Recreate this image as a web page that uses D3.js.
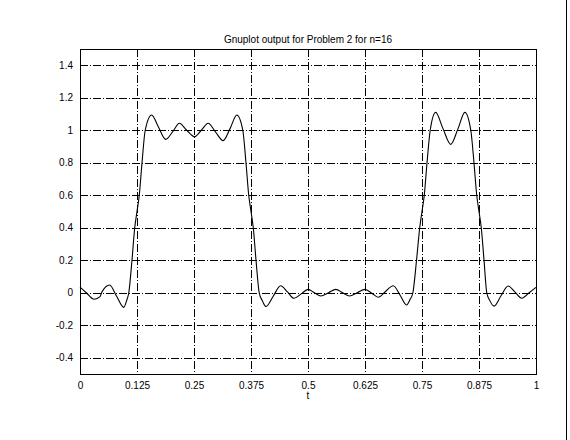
<!DOCTYPE html>
<html>
<head>
<meta charset="utf-8">
<script src="https://cdn.jsdelivr.net/npm/d3@7"></script>
<style>
  body { margin: 0; background: #fff; }
  svg { display: block; }
  text { font-family: "Liberation Sans", Arial, sans-serif; font-size: 10px; fill: #000; }
</style>
</head>
<body>
<script>
var width = 570;
var height = 440;
var margin = {top: 49, right: 34, bottom: 66, left: 80};

var titleText = 'Gnuplot output for Problem 2 for n=16';
var xLabel = 't';

var xTicks = [0, 0.125, 0.25, 0.375, 0.5, 0.625, 0.75, 0.875, 1];
var xTickLabels = ['0', '0.125', '0.25', '0.375', '0.5', '0.625', '0.75', '0.875', '1'];
var yTicks = [-0.4, -0.2, 0, 0.2, 0.4, 0.6, 0.8, 1, 1.2, 1.4];
var yTickLabels = ['-0.4', '-0.2', '0', '0.2', '0.4', '0.6', '0.8', '1', '1.2', '1.4'];

// points (t, value)
var tValues = [0, 0.015, 0.031, 0.044, 0.048, 0.065, 0.080, 0.096, 0.102, 0.107,
               0.114, 0.120, 0.125, 0.130, 0.136, 0.143, 0.157, 0.172, 0.188, 0.203,
               0.218, 0.234, 0.251, 0.266, 0.281, 0.297, 0.314, 0.329, 0.344, 0.357,
               0.364, 0.370, 0.375, 0.380, 0.386, 0.393, 0.400, 0.408, 0.424, 0.440,
               0.455, 0.469, 0.485, 0.500, 0.514, 0.528, 0.545, 0.561, 0.576, 0.591,
               0.608, 0.625, 0.640, 0.654, 0.670, 0.687, 0.702, 0.716, 0.724, 0.730,
               0.738, 0.745, 0.750, 0.755, 0.761, 0.768, 0.780, 0.796, 0.813, 0.829,
               0.844, 0.857, 0.864, 0.870, 0.875, 0.880, 0.886, 0.892, 0.899, 0.908,
               0.923, 0.939, 0.954, 0.969, 0.985, 1];
var yValues = [0.035, -0.003, -0.040, -0.024, 0.004, 0.048, -0.020, -0.090, -0.050, 0,
               0.2, 0.4, 0.5, 0.6, 0.8, 1.0, 1.094, 1.02, 0.944, 0.99,
               1.043, 1.0, 0.960, 1.0, 1.043, 0.99, 0.936, 1.01, 1.094, 1.0,
               0.8, 0.6, 0.5, 0.4, 0.2, 0, -0.050, -0.085, -0.020, 0.043,
               0.005, -0.034, -0.007, 0.021, 0, -0.020, 0, 0.021, 0, -0.020,
               0, 0.021, -0.003, -0.028, 0.008, 0.043, -0.015, -0.075, -0.040, 0,
               0.2, 0.4, 0.5, 0.6, 0.8, 1.0, 1.11, 1.01, 0.913, 1.01,
               1.11, 1.0, 0.8, 0.6, 0.5, 0.4, 0.2, 0, -0.050, -0.082,
               -0.020, 0.042, 0.004, -0.034, 0, 0.033];

var data = tValues.map(function(t, i) { return {t: t, v: yValues[i]}; });

var svg = d3.select('body').append('svg')
            .attr('width', width)
            .attr('height', height);

var x = d3.scaleLinear().domain([0, 1]).range([margin.left, width - margin.right]);
var y = d3.scaleLinear().domain([-0.5, 1.5]).range([height - margin.bottom, margin.top]);

var gridDash = '8,2,1,2';

// grid
svg.append('g').attr('class', 'ygrid')
   .selectAll('line').data(yTicks)
   .enter().append('line')
     .attr('x1', x(0)).attr('x2', x(1))
     .attr('y1', d => Math.round(y(d)) + 0.5)
     .attr('y2', d => Math.round(y(d)) + 0.5)
     .attr('stroke', '#000')
     .attr('stroke-dasharray', gridDash)
     .attr('shape-rendering', 'crispEdges');

svg.append('g').attr('class', 'xgrid')
   .selectAll('line').data(xTicks.slice(1, -1))
   .enter().append('line')
     .attr('x1', d => Math.round(x(d)) + 0.5)
     .attr('x2', d => Math.round(x(d)) + 0.5)
     .attr('y1', y(1.5)).attr('y2', y(-0.5))
     .attr('stroke', '#000')
     .attr('stroke-dasharray', gridDash)
     .attr('shape-rendering', 'crispEdges');

// border
svg.append('rect')
   .attr('x', x(0) + 0.5).attr('y', y(1.5) + 0.5)
   .attr('width', x(1) - x(0)).attr('height', y(-0.5) - y(1.5))
   .attr('fill', 'none')
   .attr('stroke', '#000')
   .attr('shape-rendering', 'crispEdges');

// axes labels
var xAxis = d3.axisBottom(x).tickValues(xTicks)
              .tickFormat((d, i) => xTickLabels[i]).tickSize(0).tickPadding(8);
svg.append('g')
   .attr('transform', `translate(0,${y(-0.5)})`)
   .call(xAxis)
   .call(g => g.select('.domain').remove())
   .selectAll('text').attr('font-size', null).attr('font-family', null);

var yAxis = d3.axisLeft(y).tickValues(yTicks)
              .tickFormat((d, i) => yTickLabels[i]).tickSize(0).tickPadding(7);
svg.append('g')
   .attr('transform', `translate(${x(0)},0)`)
   .call(yAxis)
   .call(g => g.select('.domain').remove())
   .selectAll('text').attr('font-size', null).attr('font-family', null);

svg.selectAll('.tick text').style('font-size', '10px').style('font-family', '"Liberation Sans", Arial, sans-serif');

// curve
var line = d3.line()
             .x(d => x(d.t))
             .y(d => y(d.v))
             .curve(d3.curveMonotoneX);

svg.append('path')
   .datum(data)
   .attr('d', line)
   .attr('fill', 'none')
   .attr('stroke', '#000')
   .attr('stroke-width', 1.1);

// title and x label
svg.append('text')
   .attr('x', (x(0) + x(1)) / 2)
   .attr('y', 43)
   .attr('text-anchor', 'middle')
   .text(titleText);

svg.append('text')
   .attr('x', (x(0) + x(1)) / 2)
   .attr('y', 399)
   .attr('text-anchor', 'middle')
   .text(xLabel);

// stray vertical rule at the right edge
svg.append('line')
   .attr('x1', 566.5).attr('x2', 566.5)
   .attr('y1', 0).attr('y2', height)
   .attr('stroke', '#000')
   .attr('shape-rendering', 'crispEdges');
</script>
</body>
</html>
